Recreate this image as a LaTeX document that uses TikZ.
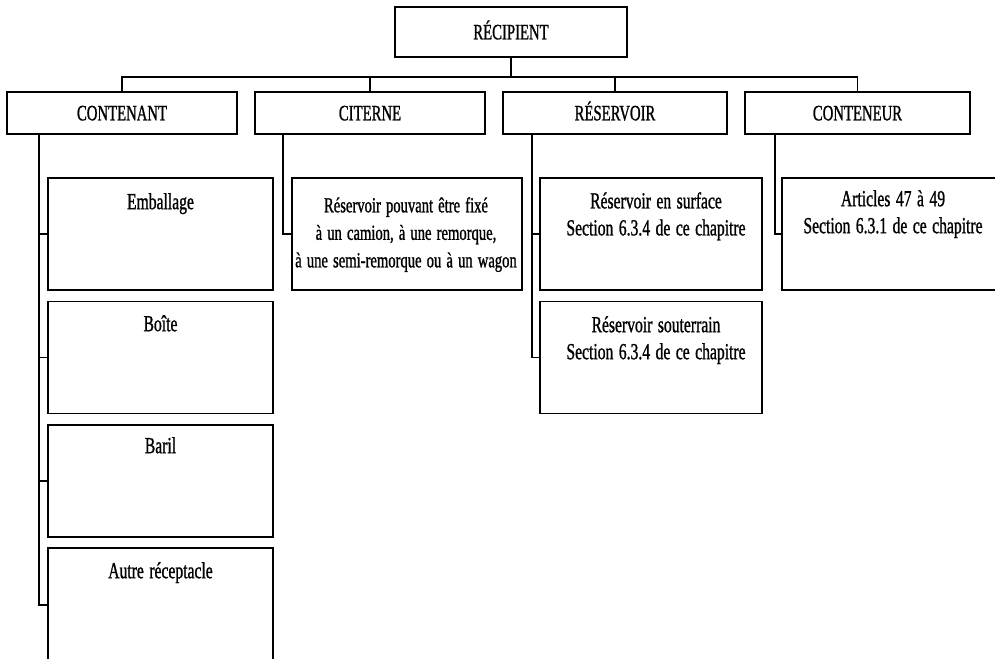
\documentclass[tikz,border=0pt]{standalone}
\usepackage{fontspec}
\newfontfamily\headfont[FakeStretch=0.67,FakeBold=1]{Liberation Serif}
\newfontfamily\bodyfont[FakeStretch=0.68,FakeBold=1,WordSpace=1.4]{Liberation Serif}
\begin{document}
\begin{tikzpicture}[x=1pt,y=-1pt,
  box/.style={draw, line width=1.7pt, rectangle, inner sep=0pt},
  headbox/.style={box, minimum height=42pt, text height=14.7pt, text depth=0pt,
    font=\headfont\fontsize{22}{26}\selectfont},
  itembox/.style={box, minimum width=225pt, minimum height=112pt},
  itemtext/.style={anchor=north, inner sep=0pt, align=center,
    font=\bodyfont\fontsize{23}{27}\selectfont},
  link/.style={line width=1.6pt}]
\useasboundingbox (0,0) rectangle (995,658);
\clip (0,0) rectangle (995,658);

% top of the tree
\node[headbox, minimum width=232pt, minimum height=50pt] (rec) at (511,32) {RÉCIPIENT};

% second level
\node[headbox, minimum width=230pt] (contenant) at (122,113) {CONTENANT};
\node[headbox, minimum width=230pt] (citerne)   at (370,113) {CITERNE};
\node[headbox, minimum width=224pt] (reservoir) at (615,113) {RÉSERVOIR};
\node[headbox, minimum width=225pt] (conteneur) at (857.5,113) {CONTENEUR};

\coordinate (bus) at (0,77);
\draw[link] (rec.south) -- (rec.south |- bus);
\draw[link] (contenant.north) -- (contenant.north |- bus)
  -- (conteneur.north |- bus) -- (conteneur.north);
\draw[link] (citerne.north) -- (citerne.north |- bus);
\draw[link] (reservoir.north) -- (reservoir.north |- bus);

% CONTENANT branch
\node[itembox] (emb)   at (160.5,234) {};
\node[itembox] (boite) at (160.5,357.5) {};
\node[itembox] (baril) at (160.5,481) {};
\node[itembox, minimum height=114pt] (autre) at (160.5,605) {};
\node[itemtext] (embt)   at (160.5,193) {Emballage};
\node[itemtext] (boitet) at (160.5,315) {Boîte};
\node[itemtext] (barilt) at (160.5,437) {Baril};
\node[itemtext] (autret) at (160.5,562) {Autre réceptacle};
\coordinate (t1) at (39,134);
\draw[link] (t1) |- (autre.west);
\draw[link] (t1 |- emb.west) -- (emb.west);
\draw[link] (t1 |- boite.west) -- (boite.west);
\draw[link] (t1 |- baril.west) -- (baril.west);

% CITERNE branch
\node[itembox, minimum width=230pt] (camion) at (407,234) {};
\node[itemtext, font=\bodyfont\fontsize{21.5}{27.5}\selectfont] (camiont) at (406,197)
  {Réservoir pouvant être fixé\\à un camion, à une remorque,\\à une semi-remorque ou à un wagon};
\coordinate (t2) at (283,134);
\draw[link] (t2) |- (camion.west);

% RÉSERVOIR branch
\node[itembox, minimum width=222pt] (surf) at (651,234) {};
\node[itembox, minimum width=222pt] (sout) at (651,357.5) {};
\node[itemtext] (surft) at (656,192)
  {Réservoir en surface\\Section 6.3.4 de ce chapitre};
\node[itemtext] (soutt) at (656,316)
  {Réservoir souterrain\\Section 6.3.4 de ce chapitre};
\coordinate (t3) at (532,134);
\draw[link] (t3) |- (sout.west);
\draw[link] (t3 |- surf.west) -- (surf.west);

% CONTENEUR branch
\node[itembox, minimum width=222pt] (art) at (893,234) {};
\node[itemtext] (artt) at (893,190)
  {Articles 47 à 49\\Section 6.3.1 de ce chapitre};
\coordinate (t4) at (775,134);
\draw[link] (t4) |- (art.west);
\end{tikzpicture}
\end{document}
